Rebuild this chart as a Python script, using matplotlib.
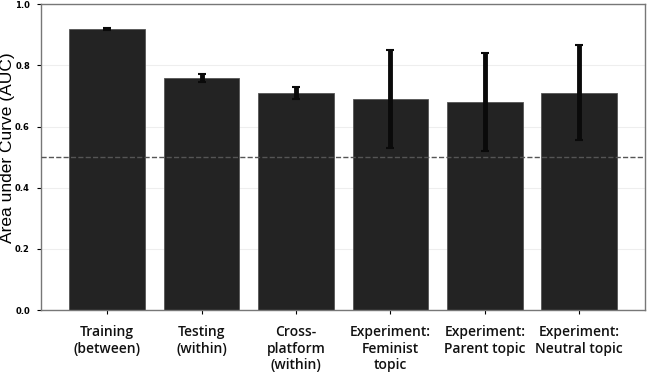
import matplotlib.pyplot as plt
import numpy as np

labels = ["Training\n(between)", "Testing\n(within)", "Cross-\nplatform\n(within)",
          "Experiment:\nFeminist\ntopic", "Experiment:\nParent topic", "Experiment:\nNeutral topic"]
auc = [0.92, 0.76, 0.71, 0.69, 0.68, 0.71]
err = [0.003, 0.013, 0.02, 0.16, 0.16, 0.155]
chance = 0.5

fig = plt.figure(figsize=(6.47, 3.75), dpi=100)
ax = fig.add_axes([0.0634, 0.173, 0.934, 0.816])

x = np.arange(len(auc))
ax.bar(x, auc, width=0.8, color="#232323", edgecolor="#555555", linewidth=0.6, zorder=2)
ax.errorbar(x, auc, yerr=err, fmt="none", ecolor="#0a0a0a", elinewidth=3.5,
            capsize=3, capthick=1.5, zorder=3)
ax.axhline(chance, color="#555555", linestyle="--", linewidth=1, zorder=4)

ax.set_xlim(-0.7, 5.7)
ax.set_ylim(0, 1.0)
ax.set_yticks(np.arange(0, 1.01, 0.2))
ax.set_yticklabels([f"{v:.1f}" for v in np.arange(0, 1.01, 0.2)], fontsize=6, fontweight="bold")
ax.set_xticks(x)
ax.set_xticklabels(labels, fontsize=10, family="Open Sans", fontweight="semibold",
                   color="#111111", va="top")
ax.tick_params(axis="x", length=3, pad=8)
ax.tick_params(axis="y", length=3, pad=5)
ax.yaxis.grid(True, color="#eeeeee", linewidth=0.8, zorder=0)
ax.set_ylabel("Area under Curve (AUC)", fontsize=12.5, family="Liberation Sans")
ax.yaxis.set_label_coords(-0.043, 0.53)
for s in ax.spines.values():
    s.set_color("#777777")
    s.set_linewidth(1)

plt.savefig("out.png", dpi=100)
plt.close()
